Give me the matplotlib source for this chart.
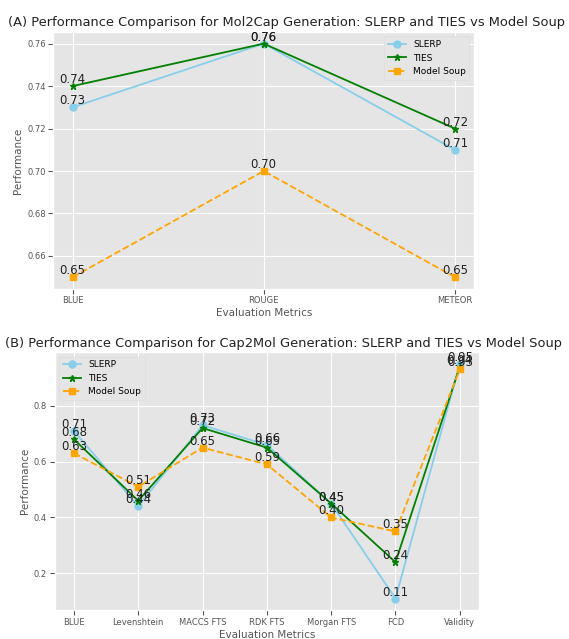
import matplotlib
matplotlib.use("Agg")
from matplotlib import pyplot as plt

plt.style.use("ggplot")

# Mol2Cap scores
mol2cap_metrics = ["BLUE", "ROUGE", "METEOR"]
mol2cap_slerp = [0.73, 0.76, 0.71]
mol2cap_ties = [0.74, 0.76, 0.72]
mol2cap_soup = [0.65, 0.70, 0.65]

# Cap2Mol scores
cap2mol_metrics = ["BLUE", "Levenshtein", "MACCS FTS", "RDK FTS", "Morgan FTS", "FCD", "Validity"]
cap2mol_slerp = [0.71, 0.44, 0.73, 0.66, 0.45, 0.11, 0.95]
cap2mol_ties = [0.68, 0.46, 0.72, 0.65, 0.45, 0.24, 0.94]
cap2mol_soup = [0.63, 0.51, 0.65, 0.59, 0.40, 0.35, 0.93]


def draw_panel(ax, metrics, slerp, ties, soup, title, legend_loc, title_x):
    ax.plot(metrics, slerp, marker="o", color="skyblue", label="SLERP",
            linewidth=1.3, markersize=5)
    ax.plot(metrics, ties, marker="*", color="green", label="TIES",
            linewidth=1.3, markersize=4.5)
    ax.plot(metrics, soup, marker="s", linestyle="--", color="orange",
            label="Model Soup", linewidth=1.3, markersize=5)
    for vals in (slerp, ties, soup):
        for i, v in enumerate(vals):
            ax.text(i, v, f"{v:.2f}", ha="center", va="bottom", fontsize=8.5,
                    color="#222222")
    ax.set_title(title, fontsize=9.35, color="#222222", pad=4, x=title_x)
    ax.set_xlabel("Evaluation Metrics", fontsize=7.5, labelpad=2)
    ax.set_ylabel("Performance", fontsize=7.5, labelpad=3)
    ax.tick_params(labelsize=6, pad=2)
    ax.legend(loc=legend_loc, fontsize=6.5, facecolor="#e5e5e5",
              framealpha=1, edgecolor="#dddddd")


fig = plt.figure(figsize=(5.69, 6.39), dpi=100)
ax1 = fig.add_axes([0.094, 0.548, 0.739, 0.402])
ax2 = fig.add_axes([0.096, 0.045, 0.746, 0.404])

draw_panel(ax1, mol2cap_metrics, mol2cap_slerp, mol2cap_ties, mol2cap_soup,
           "(A) Performance Comparison for Mol2Cap Generation: SLERP and TIES vs Model Soup",
           "upper right", 0.553)
draw_panel(ax2, cap2mol_metrics, cap2mol_slerp, cap2mol_ties, cap2mol_soup,
           "(B) Performance Comparison for Cap2Mol Generation: SLERP and TIES vs Model Soup",
           "upper left", 0.54)

fig.savefig("out.png", dpi=100, facecolor="white")
